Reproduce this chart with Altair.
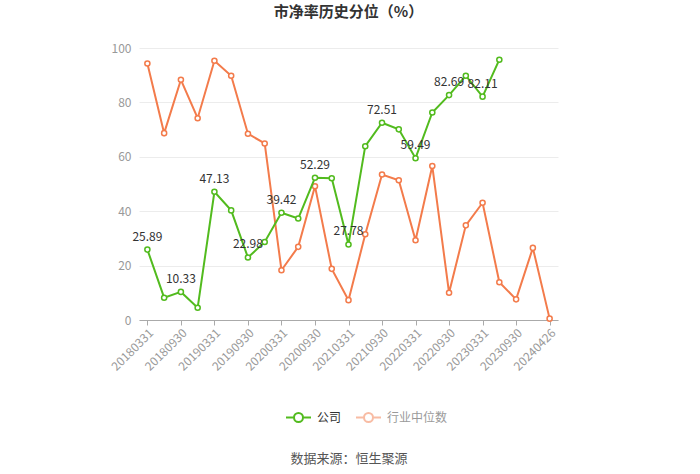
import altair as alt
import pandas as pd

dates = ["20180331", "20180630", "20180930", "20181231",
         "20190331", "20190630", "20190930", "20191231",
         "20200331", "20200630", "20200930", "20201231",
         "20210331", "20210630", "20210930", "20211231",
         "20220331", "20220630", "20220930", "20221231",
         "20230331", "20230630", "20230930", "20231231",
         "20240426"]
tick_labels = ["20180331", "20180930", "20190331", "20190930", "20200331",
               "20200930", "20210331", "20210930", "20220331", "20220930",
               "20230331", "20230930", "20240426"]
company = [25.89, 8.2, 10.33, 4.5, 47.13, 40.3, 22.98, 28.7, 39.42, 37.3,
           52.29, 52.1, 27.78, 63.9, 72.51, 70.1, 59.49, 76.3, 82.69, 89.8,
           82.11, 95.7]
industry = [94.3, 68.7, 88.3, 74.2, 95.3, 89.8, 68.5, 64.9, 18.3, 26.9,
            49.2, 18.8, 7.3, 31.5, 53.5, 51.4, 29.3, 56.6, 10.0, 34.8,
            43.1, 13.9, 7.6, 26.5, 0.5]
series = ["公司", "行业中位数"]
colors = ["#52bb1e", "#f37b4b"]

rows = []
for i, v in enumerate(company):
    rows.append({"date": dates[i], "value": v, "series": series[0], "idx": i,
                 "label": f"{v:.2f}" if i % 2 == 0 else ""})
for i, v in enumerate(industry):
    rows.append({"date": dates[i], "value": v, "series": series[1], "idx": i, "label": ""})
df = pd.DataFrame(rows)

FONT = "Noto Sans CJK SC"

x = alt.X("date:O", sort=dates,
          scale=alt.Scale(type="point", padding=0.5, domain=dates),
          axis=alt.Axis(values=tick_labels, labelAngle=-45, labelAlign="right",
                        labelBaseline="top", labelColor="#999999", labelFontSize=12,
                        labelFont=FONT, domainColor="#aaaaaa", tickColor="#aaaaaa",
                        tickSize=5, labelPadding=2, grid=False,
                        title="数据来源：恒生聚源", titleFont=FONT, titleFontSize=13,
                        titleFontWeight="normal", titleColor="#555555",
                        titleY=138, titleBaseline="middle"))
y = alt.Y("value:Q", scale=alt.Scale(domain=[0, 100]),
          axis=alt.Axis(values=[0, 20, 40, 60, 80, 100], title=None, domain=False,
                        ticks=False, labelColor="#999999", labelFontSize=12,
                        labelFont=FONT, labelPadding=8, gridColor="#ececec"))

color = alt.Color("series:N", scale=alt.Scale(domain=series, range=colors),
                  sort=series,
                  legend=alt.Legend(
                      title=None, orient="none", direction="horizontal",
                      legendX=146, legendY=356,
                      symbolType="M-1,0L-0.36,0M0.36,0L1,0M0.36,0A0.36,0.36,0,1,1,-0.36,0A0.36,0.36,0,1,1,0.36,0",
                      symbolSize=625, symbolStrokeWidth=2, symbolFillColor="white",
                      labelFont=FONT, labelFontSize=12, columnPadding=10,
                      labelOffset=5,
                      labelColor={"expr": "datum.label == '公司' ? '#333333' : '#9a9a9a'"},
                      symbolOpacity={"expr": "datum.label == '公司' ? 1 : 0.5"},
                  ))

base = alt.Chart(df).encode(x=x, y=y, color=color, order=alt.Order("idx:Q"))

lines = base.mark_line(strokeWidth=2)
points = base.mark_point(shape="circle", filled=False, fill="white", fillOpacity=1,
                         size=26, strokeWidth=1.5, opacity=1)
labels = alt.Chart(df).transform_filter("datum.label != ''").mark_text(
    dy=-13, fontSize=12, font=FONT, color="#333333"
).encode(x=x, y=y, text="label:N")

orange = lambda c: c.transform_filter(f"datum.series == '{series[1]}'")
green = lambda c: c.transform_filter(f"datum.series == '{series[0]}'")

chart = alt.layer(
    orange(lines), orange(points), green(lines), green(points), labels
).properties(
    width=419, height=272,
    autosize=alt.AutoSizeParams(type="none"),
    padding={"left": 139, "top": 48, "right": 142, "bottom": 154},
    title=alt.Title("市净率历史分位（%）", font=FONT, fontSize=15, fontWeight="bold",
                    color="#333333", anchor="middle", offset=22),
).configure_view(stroke=None)

chart.save("out.html", embed_options={"renderer": "svg", "actions": False})
